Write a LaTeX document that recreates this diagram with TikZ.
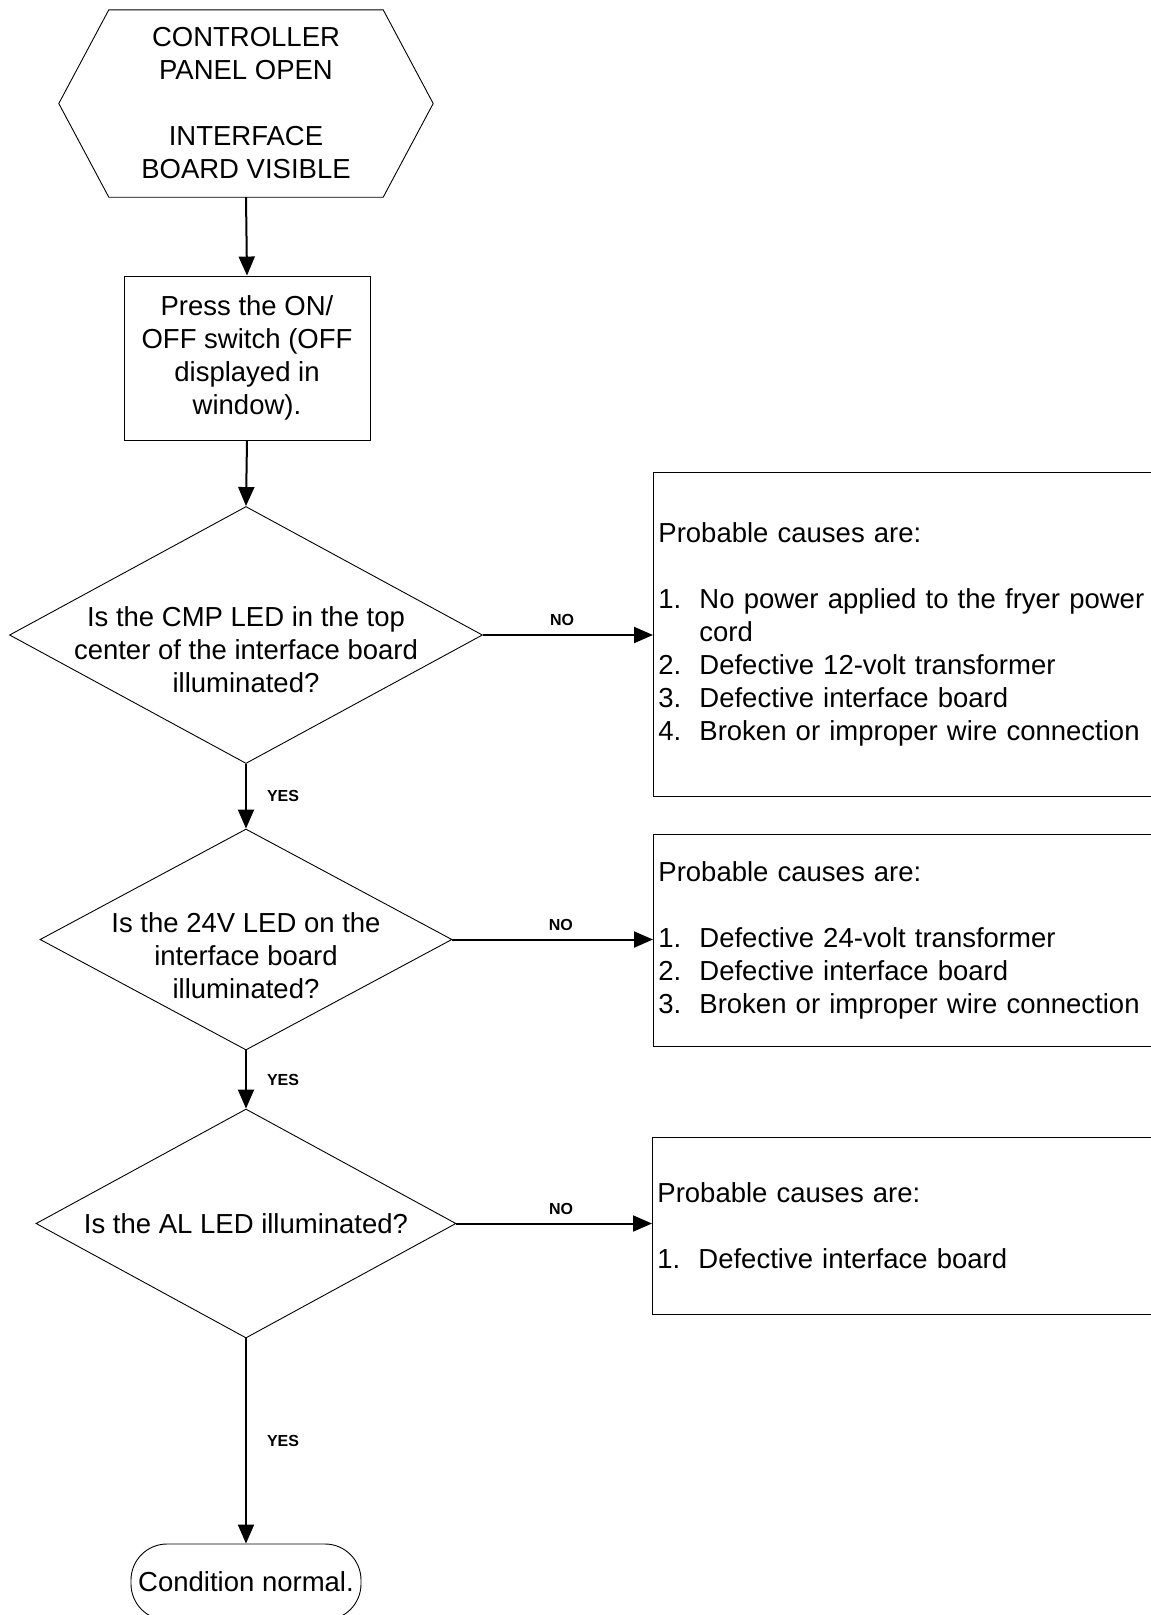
\documentclass[tikz,border=0pt]{standalone}
\usepackage{fontspec}
\setmainfont{Liberation Sans}
\usetikzlibrary{arrows.meta, positioning, shapes.geometric}

\newcommand{\citem}[1]{\makebox[41pt][l]{#1}}

\begin{document}
\begin{tikzpicture}[
          x=1pt, y=-1pt,
          txt/.style={font=\fontsize{27.5}{33}\selectfont, align=center},
          process/.style={txt, rectangle, draw, line width=0.9pt, minimum width=246pt, minimum height=164pt},
          decision/.style={diamond, draw, line width=0.9pt, inner sep=0pt},
          causes/.style={rectangle, draw, line width=0.9pt, font=\fontsize{27.5}{33}\selectfont,
            align=left, anchor=west, text width=500pt, inner xsep=5pt},
          terminal/.style={txt, rectangle, draw, rounded corners=36pt, line width=0.9pt,
            minimum width=230pt, minimum height=76pt, inner sep=0pt},
          flow/.style={line width=2pt, -{Triangle[length=19pt,width=16pt]}},
          lbl/.style={font=\fontsize{16}{18}\selectfont\bfseries, inner sep=0pt}
        ]
          \useasboundingbox (0,0) rectangle (1151,1615);
          \clip (0,0) rectangle (1151,1615);

          % start
          \node[txt, minimum width=274pt, minimum height=187pt, inner sep=0pt] (start) at (246,103.5)
            {CONTROLLER\\PANEL OPEN\\[33pt]INTERFACE\\BOARD VISIBLE};
          \draw[line width=0.9pt] (start.north west) -- (start.north east) -- ([xshift=50pt]start.east)
            -- (start.south east) -- (start.south west) -- ([xshift=-50pt]start.west) -- cycle;

          \node[process] (press) at (247,358) {Press the ON/\\OFF switch (OFF\\displayed in\\window).};

          % questions
          \node[decision, minimum width=473pt, minimum height=257pt] (q1) at (246,635) {};
          \node[txt] (q1txt) at ([yshift=-15pt]q1.center)
            {Is the CMP LED in the top\\center of the interface board\\illuminated?};
          \node[decision, minimum width=412pt, minimum height=221pt] (q2) at (246,939.5) {};
          \node[txt] (q2txt) at ([yshift=-16pt]q2.center)
            {Is the 24V LED on the\\interface board\\illuminated?};
          \node[decision, minimum width=420pt, minimum height=229pt] (q3) at (246,1223.5) {};
          \node[txt] (q3txt) at (q3.center) {Is the AL LED illuminated?};

          \node[terminal] (done) at (246,1582) {Condition normal.};

          % causes
          \node[causes, minimum height=324pt] (c1) at (653,634) {Probable causes are:\\[33pt]
            \citem{1.}No power applied to the fryer power\\\citem{}cord\\
            \citem{2.}Defective 12-volt transformer\\\citem{3.}Defective interface board\\
            \citem{4.}Broken or improper wire connection};
          \node[causes, minimum height=212pt] (c2) at (653,940) {Probable causes are:\\[33pt]
            \citem{1.}Defective 24-volt transformer\\\citem{2.}Defective interface board\\
            \citem{3.}Broken or improper wire connection};
          \node[causes, minimum height=177pt] (c3) at (652,1225.5) {Probable causes are:\\[33pt]
            \citem{1.}Defective interface board};

          % connectors
          \draw[flow] (start.south) -- (press.north);
          \draw[flow] (press.south) -- (q1.north);
          \draw[flow] (q1.south) -- node[lbl, right=20pt] {YES} (q2.north);
          \draw[flow] (q2.south) -- node[lbl, right=20pt] {YES} (q3.north);
          \draw[flow] (q3.south) -- node[lbl, right=20pt] {YES} (done.north);
          \draw[flow] (q1.east) -- node[lbl, above=8pt, pos=0.465] {NO} (q1.east -| c1.west);
          \draw[flow] (q2.east) -- node[lbl, above=8pt, pos=0.54] {NO} (q2.east -| c2.west);
          \draw[flow] (q3.east) -- node[lbl, above=8pt, pos=0.535] {NO} (q3.east -| c3.west);
        \end{tikzpicture}
\end{document}
